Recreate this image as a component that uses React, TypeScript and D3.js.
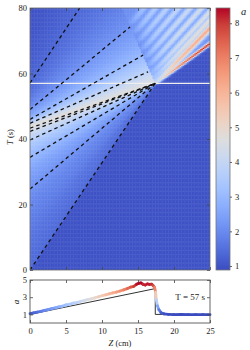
import { useEffect, useRef } from 'react'
import * as d3 from 'd3'

// a at the left edge (Z = 0) versus start time T0
const bndT = [0, 10, 20, 25, 30, 35, 38, 40, 42, 43, 44, 44.6, 45.2, 46, 47.5, 49, 51, 53, 55, 57, 62, 70, 80]
const bndA = [1.36, 1.57, 1.9, 2.14, 2.48, 2.96, 3.37, 3.73, 4.18, 4.45, 4.77, 4.3, 3.65, 2.99, 2.5, 2.17, 1.85, 1.6, 1.45, 1.34, 1.2, 1.05, 0.98]
const waveSpeed = 0.303 // dZ/dT per unit of a
const speedOffset = 0.35
const shockZ = 17.4
const shockT = 57
const fanEdge = -0.2 // speed of the left side of the wake

// wake stripes behind the front: Z where each reaches T = 80, speed, peak a
const stripeTop = [31.66, 27.68, 26.5, 25.4, 23.8, 22.2, 20.6, 19.0, 17.4, 15.8]
const stripeSpeed = [0.62, 0.447, 0.43, 0.42, 0.41, 0.4, 0.39, 0.38, 0.37, 0.36]
const stripePeak = [8.6, 6.4, 4.9, 4.6, 4.4, 4.2, 4.0, 3.9, 3.8, 3.6]

// dashed characteristics
const focusStartT = [0, 24.7, 34.4, 39.7, 42.3, 43.3]
const openStartT = [44.8, 46, 49, 57.1]
const openEndZ = [16.4, 15.7, 13.9, 6.9]
const openEndT = [60.5, 65.6, 74.2, 80]

// measured profile at T = 57 s
const profZ = [0, 0.5, 1, 1.5, 2, 2.5, 3, 3.5, 4, 4.5, 5, 5.5, 6, 6.5, 7, 7.5, 8, 8.5, 9, 9.5, 10, 10.5, 11, 11.5, 12, 12.5, 13, 13.5, 14, 14.4, 14.8, 15.1, 15.4, 15.7, 16.0, 16.3, 16.6, 16.9, 17.1, 17.3, 17.45, 17.55, 17.7, 17.9, 18.2, 18.6, 19.2, 20, 21, 22, 23, 24, 25]
const profA = [1.08, 1.17, 1.27, 1.35, 1.47, 1.56, 1.66, 1.75, 1.87, 1.95, 2.1, 2.18, 2.3, 2.38, 2.5, 2.6, 2.72, 2.8, 2.93, 3.05, 3.17, 3.28, 3.38, 3.5, 3.6, 3.72, 3.85, 4.0, 4.18, 4.25, 4.5, 4.62, 4.66, 4.5, 4.42, 4.55, 4.48, 4.52, 4.35, 4.15, 3.6, 2.7, 2.0, 1.55, 1.2, 1.06, 1.0, 0.98, 0.99, 0.97, 0.98, 0.97, 0.97]
// model profile
const modelZ = [0, 17.4, 17.4, 25]
const modelA = [1, 4, 1, 1]

const tTicks = [0, 20, 40, 60, 80]
const zTicks = [0, 5, 10, 15, 20, 25]
const aTicks = [1, 3, 5]
const cbarTicks = [1, 2, 3, 4, 5, 6, 7, 8]

const coolwarm = ['#3b4cc0', '#4d68d7', '#6282ea', '#779af7', '#8db0fe', '#a3c2ff', '#b8d0f9', '#ccd9ee', '#dddddd',
  '#ecd3c5', '#f5c4ac', '#f7b194', '#f49a7b', '#ec7f63', '#de604d', '#cb3e38', '#b40426']

const font = "'Liberation Serif', 'DejaVu Serif', serif"

export default function App() {
  const svgRef = useRef<SVGSVGElement>(null)

  useEffect(() => {
    if (!svgRef.current) return
    const svg = d3.select(svgRef.current)
    svg.selectAll('*').remove()

    const x = d3.scaleLinear().domain([0, 25]).range([30, 210])
    const yT = d3.scaleLinear().domain([0, 80]).range([270, 8])
    const yA = d3.scaleLinear().domain([0, 5]).range([323, 280])
    const cLo = 0.885
    const cHi = 8.44
    const yC = d3.scaleLinear().domain([cLo, cHi]).range([270, 8])
    const color = d3.scaleLinear<string>()
      .domain(coolwarm.map((_, i) => cLo + (cHi - cLo) * i / (coolwarm.length - 1)))
      .range(coolwarm).clamp(true)
    const lineColor = d3.scaleLinear<string>()
      .domain(coolwarm.map((_, i) => 1 + 3.6 * i / (coolwarm.length - 1)))
      .range(coolwarm).clamp(true)

    // field a(Z, T): characteristics from the left edge, wake after the shock
    const bnd = d3.scaleLinear().domain(bndT).range(bndA).clamp(true)
    const step = 0.1
    const n0 = Math.round(80 / step)
    const t0s = d3.range(n0 + 1).map(i => i * step)
    const a0s = t0s.map(t => bnd(t))
    const c0s = a0s.map(a => waveSpeed * (a - speedOffset))

    const charA = (z: number, t: number) => {
      let zPrev = 0
      let aPrev = bnd(t)
      for (let i = Math.min(n0, Math.floor(t / step)); i >= 0; i--) {
        const zc = c0s[i] * (t - t0s[i])
        if (zc >= z) {
          const f = zc === zPrev ? 0 : (z - zPrev) / (zc - zPrev)
          return aPrev + f * (a0s[i] - aPrev)
        }
        zPrev = zc
        aPrev = a0s[i]
      }
      return 1
    }

    const gauss = (d: number, s: number) => Math.exp(-d * d / (2 * s * s))
    const wakeA = (z: number, t: number) => {
      const dt = t - shockT
      const base = 2.1 + 1.9 * Math.exp(-dt / 2.5)
      let a = base
      for (let k = 0; k < stripeTop.length; k++) {
        const v = stripeSpeed[k]
        const zc = stripeTop[k] - v * (80 - t)
        const ts = Math.max(shockT, (shockZ - fanEdge * shockT - stripeTop[k] + 80 * v) / (v - fanEdge))
        if (t < ts) continue
        const peak = base + (stripePeak[k] - base) * (1 - Math.exp(-(t - ts) / 4))
        const s = k === 0 ? 0.28 : 0.42
        if (k === 0 && z > zc) return 1 + (peak - 1) * gauss(z - zc, s)
        a = Math.max(a, base + (peak - base) * gauss(z - zc, s))
      }
      return a
    }

    const fieldA = (z: number, t: number) => {
      if (t > shockT && z - shockZ >= fanEdge * (t - shockT)) return wakeA(z, t)
      return charA(z, t)
    }

    const nz = 125
    const nt = 200
    const dz = 25 / nz
    const dtc = 80 / nt
    const cells: { z: number; t: number; a: number }[] = []
    for (let j = 0; j < nt; j++) {
      for (let i = 0; i < nz; i++) {
        const z = i * dz
        const t = j * dtc
        cells.push({ z, t, a: fieldA(z + dz / 2, t + dtc / 2) })
      }
    }

    const defs = svg.append('defs')
    defs.append('clipPath').attr('id', 'mainClip')
      .append('rect').attr('x', 30).attr('y', 8).attr('width', 180).attr('height', 262)

    const grad = defs.append('linearGradient').attr('id', 'cbar')
      .attr('x1', 0).attr('y1', 1).attr('x2', 0).attr('y2', 0)
    coolwarm.forEach((c, i) => {
      grad.append('stop').attr('offset', i / (coolwarm.length - 1)).attr('stop-color', c)
    })

    // heat map
    const map = svg.append('g').attr('clip-path', 'url(#mainClip)')
    const cw = x(dz) - x(0) + 0.4
    const ch = yT(0) - yT(dtc) + 0.4
    map.selectAll('rect')
      .data(cells)
      .join('rect')
      .attr('x', d => x(d.z))
      .attr('y', d => yT(d.t + dtc))
      .attr('width', cw)
      .attr('height', ch)
      .attr('fill', d => color(d.a))

    // white line at T = 57 s
    map.append('line')
      .attr('x1', x(0)).attr('x2', x(25))
      .attr('y1', yT(shockT)).attr('y2', yT(shockT))
      .attr('stroke', '#eeeeee').attr('stroke-width', 1.1)

    // characteristics
    const dash = (z0: number, t0: number, z1: number, t1: number) => {
      map.append('line')
        .attr('x1', x(z0)).attr('y1', yT(t0))
        .attr('x2', x(z1)).attr('y2', yT(t1))
        .attr('stroke', '#111').attr('stroke-width', 1.3)
        .attr('stroke-dasharray', '3.5 3.2')
    }
    focusStartT.forEach(t0 => dash(0, t0, shockZ, shockT))
    openStartT.forEach((t0, i) => dash(0, t0, openEndZ[i], openEndT[i]))

    const styleAxis = (g: d3.Selection<SVGGElement, unknown, null, undefined>) => {
      g.select('.domain').remove()
      g.selectAll('.tick line').attr('stroke', '#444').attr('stroke-width', 0.8)
      g.selectAll('.tick text').attr('fill', '#222').style('font-family', font).style('font-size', '8.5px')
    }
    const blank = () => ''
    const intFmt = d3.format('d')

    // main axes
    svg.append('g').attr('transform', 'translate(30,0)')
      .call(d3.axisLeft(yT).tickValues(tTicks).tickSize(-3).tickPadding(3).tickFormat(intFmt)).call(styleAxis)
    svg.append('g').attr('transform', 'translate(210,0)')
      .call(d3.axisRight(yT).tickValues(tTicks).tickSize(-3).tickFormat(blank)).call(styleAxis)
    svg.append('g').attr('transform', 'translate(0,270)')
      .call(d3.axisBottom(x).tickValues(zTicks).tickSize(-3).tickFormat(blank)).call(styleAxis)
    svg.append('g').attr('transform', 'translate(0,8)')
      .call(d3.axisTop(x).tickValues(zTicks).tickSize(-3).tickFormat(blank)).call(styleAxis)
    svg.append('rect').attr('x', 30).attr('y', 8).attr('width', 180).attr('height', 262)
      .attr('fill', 'none').attr('stroke', '#666').attr('stroke-width', 0.8)

    const tLabel = svg.append('text')
      .attr('transform', 'translate(13,137) rotate(-90)')
      .attr('text-anchor', 'middle')
      .style('font-family', font).style('font-size', '8.5px').attr('fill', '#222')
    tLabel.append('tspan').style('font-style', 'italic').text('T')
    tLabel.append('tspan').text(' (s)')

    // colorbar
    svg.append('rect').attr('x', 216).attr('y', 8).attr('width', 14).attr('height', 262)
      .attr('fill', 'url(#cbar)').attr('stroke', '#777').attr('stroke-width', 0.8)
    svg.append('g').attr('transform', 'translate(230,0)')
      .call(d3.axisRight(yC).tickValues(cbarTicks).tickSize(2).tickPadding(3).tickFormat(intFmt)).call(styleAxis)
    svg.append('text').attr('x', 241).attr('y', 15)
      .style('font-family', font).style('font-size', '10.5px').style('font-style', 'italic')
      .attr('fill', '#222').text('a')

    // bottom panel
    const bottom = svg.append('g')
    bottom.append('path')
      .datum(modelZ.map((z, i) => [z, modelA[i]] as [number, number]))
      .attr('fill', 'none').attr('stroke', '#333').attr('stroke-width', 1)
      .attr('d', d3.line<[number, number]>().x(d => x(d[0])).y(d => yA(d[1])))

    const segs = d3.pairs(profZ.map((z, i) => ({ z, a: profA[i] })))
    bottom.selectAll('line.prof')
      .data(segs)
      .join('line')
      .attr('class', 'prof')
      .attr('x1', d => x(d[0].z)).attr('y1', d => yA(d[0].a))
      .attr('x2', d => x(d[1].z)).attr('y2', d => yA(d[1].a))
      .attr('stroke', d => lineColor((d[0].a + d[1].a) / 2))
      .attr('stroke-width', 2.8)
      .attr('stroke-linecap', 'round')

    svg.append('g').attr('transform', 'translate(30,0)')
      .call(d3.axisLeft(yA).tickValues(aTicks).tickSize(-3).tickPadding(3).tickFormat(intFmt)).call(styleAxis)
    svg.append('g').attr('transform', 'translate(210,0)')
      .call(d3.axisRight(yA).tickValues(aTicks).tickSize(-3).tickFormat(blank)).call(styleAxis)
    svg.append('g').attr('transform', 'translate(0,323)')
      .call(d3.axisBottom(x).tickValues(zTicks).tickSize(-3).tickPadding(5).tickFormat(intFmt)).call(styleAxis)
    svg.append('g').attr('transform', 'translate(0,280)')
      .call(d3.axisTop(x).tickValues(zTicks).tickSize(-3).tickFormat(blank)).call(styleAxis)
    svg.append('rect').attr('x', 30).attr('y', 280).attr('width', 180).attr('height', 43)
      .attr('fill', 'none').attr('stroke', '#555').attr('stroke-width', 0.9)

    svg.append('text')
      .attr('transform', 'translate(19,302) rotate(-90)')
      .attr('text-anchor', 'middle')
      .style('font-family', font).style('font-size', '9px').style('font-style', 'italic')
      .attr('fill', '#222').text('a')

    const zLabel = svg.append('text')
      .attr('x', 120).attr('y', 346).attr('text-anchor', 'middle')
      .style('font-family', font).style('font-size', '8.5px').attr('fill', '#222')
    zLabel.append('tspan').style('font-style', 'italic').text('Z')
    zLabel.append('tspan').text(' (cm)')

    svg.append('text')
      .attr('x', 205).attr('y', 300).attr('text-anchor', 'end')
      .style('font-family', font).style('font-size', '9px').attr('fill', '#222')
      .text('T = 57 s')
  }, [])

  return (
    <svg
      ref={svgRef}
      width={250}
      height={350}
      style={{ position: 'absolute', left: 0, top: 0, background: '#fff' }}
    />
  )
}
